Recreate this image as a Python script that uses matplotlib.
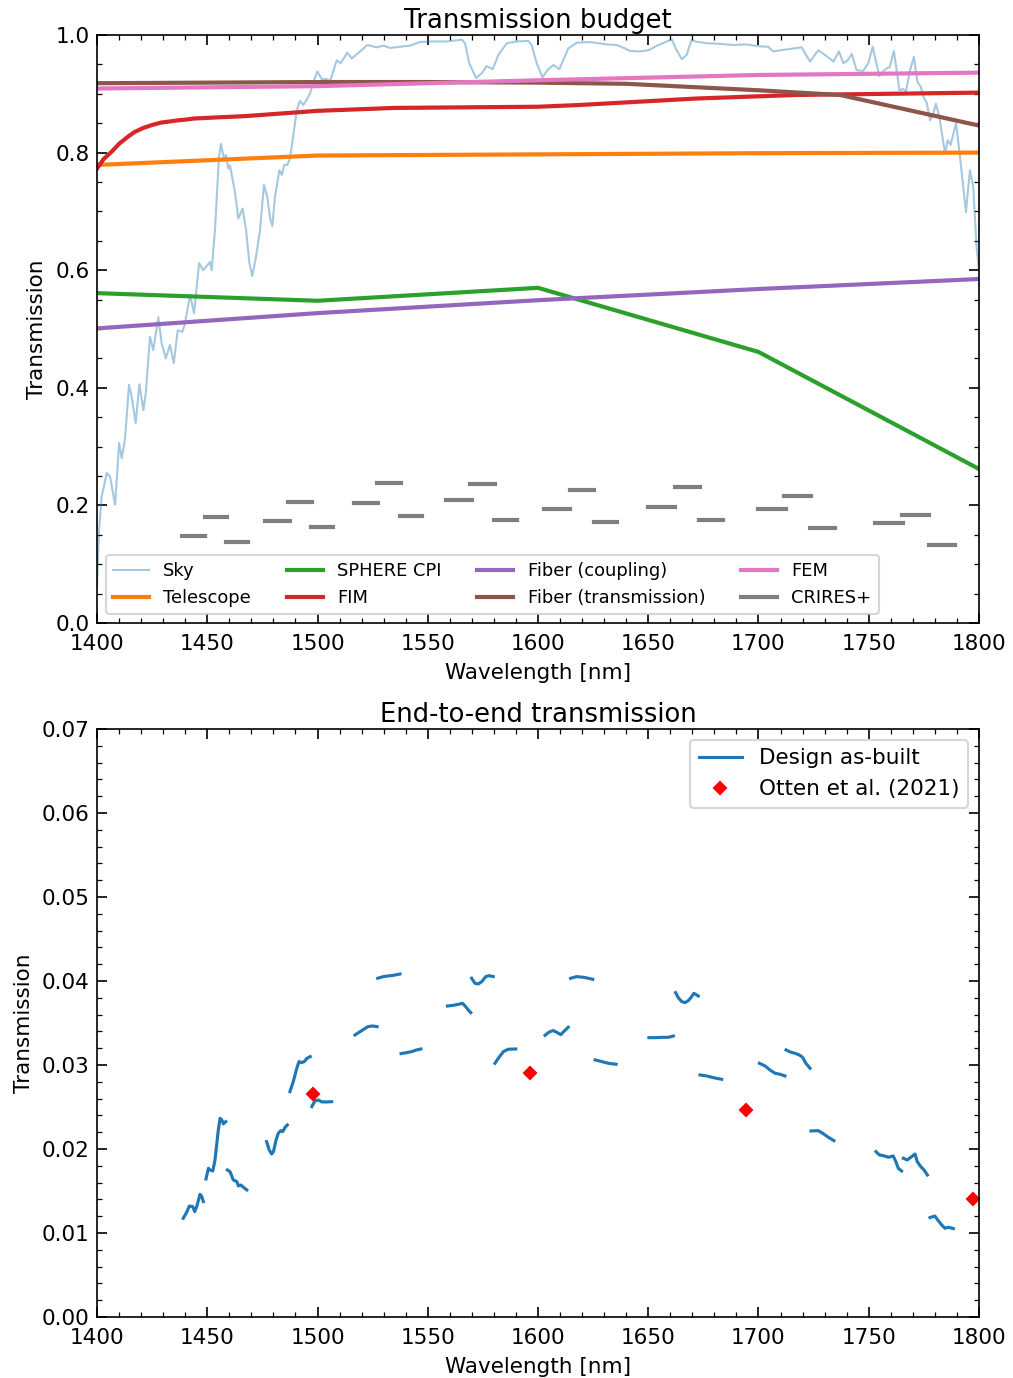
import numpy as np
import matplotlib
matplotlib.use("Agg")
import matplotlib.pyplot as plt
from matplotlib.ticker import MultipleLocator

plt.rcParams["font.size"] = 10.35

# ---------------- DATA ----------------
# sky transmission
sky_wl = [1400.0, 1400.9, 1402.1, 1404.4, 1405.9, 1408.2, 1410.0, 1411.2, 1412.7, 1414.5,
          1415.7, 1417.5, 1419.2, 1421.0, 1422.1, 1424.0, 1425.5, 1427.8, 1429.3, 1431.2,
          1433.1, 1434.8, 1436.6, 1438.7, 1439.9, 1442.2, 1444.0, 1446.3, 1448.2, 1451.2,
          1452.0, 1453.5, 1455.3, 1456.2, 1457.7, 1458.5, 1459.5, 1460.3, 1462.5, 1464.1,
          1466.0, 1467.6, 1469.1, 1470.4, 1472.1, 1473.9, 1475.7, 1477.2, 1478.5, 1479.5,
          1480.7, 1482.7, 1483.8, 1484.9, 1486.3, 1487.5, 1488.7, 1490.6, 1492.0, 1493.6,
          1495.4, 1496.6, 1498.4, 1499.9, 1501.9, 1504.2, 1505.7, 1508.7, 1510.5, 1513.5,
          1515.5, 1519.3, 1522.6, 1526.9, 1529.8, 1532.9, 1542.0, 1546.5, 1551.0, 1558.6,
          1565.4, 1566.9, 1568.8, 1571.9, 1574.5, 1576.7, 1579.5, 1582.0, 1585.8, 1590.3,
          1595.6, 1597.1, 1599.4, 1602.0, 1604.7, 1607.0, 1609.7, 1613.7, 1617.6, 1623.6,
          1631.2, 1635.7, 1639.5, 1641.7, 1646.0, 1650.0, 1654.6, 1658.4, 1660.6, 1662.9,
          1665.2, 1667.4, 1669.7, 1671.2, 1676.5, 1682.5, 1688.6, 1694.6, 1699.9, 1704.4,
          1706.7, 1709.8, 1715.8, 1719.6, 1721.1, 1723.4, 1727.1, 1730.2, 1734.0, 1736.5,
          1738.5, 1740.3, 1742.3, 1744.5, 1747.5, 1749.8, 1751.8, 1752.8, 1754.8, 1756.9,
          1759.6, 1761.4, 1762.7, 1763.9, 1765.7, 1766.9, 1768.7, 1770.5, 1772.0, 1773.6,
          1774.8, 1776.3, 1777.8, 1779.3, 1780.5, 1782.0, 1784.6, 1785.8, 1787.1, 1789.6,
          1791.4, 1794.1, 1795.9, 1797.4, 1798.9, 1800.0]
sky_tr = [0.060, 0.158, 0.215, 0.255, 0.249, 0.201, 0.306, 0.280, 0.314, 0.405,
          0.385, 0.340, 0.406, 0.362, 0.391, 0.487, 0.464, 0.520, 0.476, 0.450,
          0.473, 0.442, 0.498, 0.495, 0.510, 0.558, 0.527, 0.612, 0.600, 0.614,
          0.600, 0.669, 0.793, 0.815, 0.787, 0.796, 0.773, 0.778, 0.734, 0.688,
          0.705, 0.668, 0.612, 0.590, 0.623, 0.668, 0.745, 0.725, 0.688, 0.675,
          0.725, 0.770, 0.762, 0.779, 0.779, 0.790, 0.821, 0.872, 0.888, 0.881,
          0.892, 0.901, 0.923, 0.938, 0.925, 0.925, 0.921, 0.957, 0.952, 0.970,
          0.960, 0.972, 0.983, 0.979, 0.982, 0.978, 0.982, 0.988, 0.989, 0.989,
          0.992, 0.986, 0.952, 0.927, 0.935, 0.947, 0.942, 0.966, 0.986, 0.989,
          0.990, 0.983, 0.952, 0.928, 0.942, 0.949, 0.942, 0.977, 0.987, 0.988,
          0.984, 0.983, 0.977, 0.973, 0.972, 0.974, 0.983, 0.989, 0.993, 0.974,
          0.959, 0.966, 0.992, 0.989, 0.986, 0.985, 0.983, 0.984, 0.981, 0.980,
          0.972, 0.974, 0.977, 0.979, 0.969, 0.955, 0.974, 0.966, 0.955, 0.972,
          0.952, 0.956, 0.968, 0.940, 0.939, 0.952, 0.980, 0.963, 0.930, 0.940,
          0.946, 0.973, 0.940, 0.906, 0.908, 0.904, 0.940, 0.963, 0.921, 0.912,
          0.895, 0.885, 0.855, 0.867, 0.883, 0.861, 0.799, 0.821, 0.813, 0.850,
          0.793, 0.699, 0.770, 0.742, 0.640, 0.600]

# piecewise components
knot_wl = [1400, 1500, 1600, 1700, 1800]
telescope_tr = [0.779, 0.795, 0.797, 0.799, 0.800]
sphere_tr = [0.561, 0.548, 0.570, 0.461, 0.262]
coupling_tr = [0.501, 0.527, 0.549, 0.568, 0.585]
fem_tr = [0.909, 0.913, 0.923, 0.932, 0.936]

fim_wl = [1400, 1403, 1407, 1410, 1414, 1417, 1421, 1425, 1429, 1433, 1437, 1440, 1444,
          1450, 1455, 1467, 1500, 1535, 1600, 1619, 1672, 1717, 1800]
fim_tr = [0.773, 0.789, 0.803, 0.815, 0.827, 0.835, 0.842, 0.847, 0.851, 0.853, 0.855,
          0.856, 0.858, 0.859, 0.860, 0.862, 0.871, 0.876, 0.878, 0.881, 0.892, 0.898,
          0.902]

fibtr_wl = [1400, 1500, 1550, 1600, 1640, 1700, 1737, 1800]
fibtr_tr = [0.918, 0.920, 0.920, 0.919, 0.917, 0.906, 0.898, 0.846]

# CRIRES+ per order/detector
crires_start = [1438.4, 1449.0, 1458.4, 1476.3, 1486.8, 1496.9, 1516.4, 1527.0, 1537.3,
                1558.4, 1569.3, 1580.0, 1602.7, 1614.4, 1625.4, 1649.7, 1662.0, 1672.9,
                1699.8, 1711.7, 1723.4, 1752.7, 1765.1, 1777.2]
crires_end = [1449.0, 1459.0, 1468.5, 1487.5, 1497.5, 1507.0, 1527.4, 1538.0, 1547.4,
              1569.9, 1580.4, 1590.3, 1614.4, 1625.4, 1636.0, 1662.0, 1673.3, 1683.9,
              1712.5, 1723.8, 1734.8, 1765.4, 1777.3, 1789.0]
crires_tr = [0.148, 0.180, 0.138, 0.174, 0.205, 0.164, 0.2035, 0.2375, 0.1825,
             0.2086, 0.236, 0.175, 0.1944, 0.2256, 0.1723, 0.197, 0.232, 0.175,
             0.1944, 0.2154, 0.161, 0.170, 0.184, 0.133]

# end-to-end transmission, segments separated by nan
nan = np.nan
e2e_wl = [1439.1, 1440.4, 1441.9, 1443.4, 1444.3, 1445.2, 1446.7, 1447.5, 1448.2, nan,
          1449.4, 1450.5, 1451.2, 1452.5, 1453.5, 1455.0, 1455.8, 1456.6, 1457.3, 1458.4, nan,
          1459.1, 1460.3, 1461.8, 1463.4, 1464.1, 1465.2, 1466.4, 1467.9, nan,
          1476.9, 1478.1, 1479.2, 1480.0, 1481.2, 1482.2, 1483.3, 1484.2, 1485.3, 1486.3, nan,
          1487.5, 1489.0, 1490.6, 1491.6, 1492.8, 1494.0, 1495.2, 1496.7, nan,
          1497.4, 1498.9, 1500.4, 1501.9, 1504.2, 1506.4, nan,
          1517.0, 1520.0, 1522.8, 1524.9, 1527.0, nan,
          1527.3, 1529.9, 1532.1, 1534.4, 1537.4, nan,
          1537.9, 1540.5, 1542.7, 1545.0, 1546.9, nan,
          1558.9, 1561.6, 1563.9, 1565.8, 1567.2, 1568.4, 1569.5, nan,
          1569.9, 1571.4, 1572.9, 1574.5, 1576.3, 1577.8, 1579.7, nan,
          1580.5, 1582.3, 1584.3, 1586.5, 1589.9, nan,
          1603.2, 1605.1, 1606.9, 1608.8, 1610.3, 1611.8, 1613.7, nan,
          1614.8, 1617.5, 1620.5, 1622.8, 1624.8, nan,
          1625.9, 1628.9, 1631.9, 1635.4, nan,
          1650.3, 1653.1, 1656.1, 1659.1, 1661.4, nan,
          1662.4, 1663.6, 1665.2, 1666.7, 1668.2, 1669.7, 1670.7, 1672.7, nan,
          1673.5, 1676.5, 1679.5, 1683.3, nan,
          1700.4, 1703.0, 1705.2, 1707.5, 1709.8, 1712.0, nan,
          1712.5, 1714.3, 1716.6, 1718.5, 1720.0, 1721.5, 1723.4, nan,
          1723.8, 1727.1, 1729.1, 1731.7, 1734.2, nan,
          1753.3, 1754.8, 1756.6, 1758.9, 1761.1, 1762.3, 1763.4, 1764.9, nan,
          1765.7, 1767.5, 1769.5, 1771.0, 1772.0, 1773.6, 1775.1, 1776.6, nan,
          1777.8, 1780.0, 1781.5, 1783.1, 1784.6, 1786.1, 1788.4]
e2e_tr = [0.01175, 0.01234, 0.01321, 0.01313, 0.01254, 0.01313, 0.01460, 0.01433, 0.01373, nan,
          0.01643, 0.01770, 0.01750, 0.01738, 0.01869, 0.02226, 0.02365, 0.02345, 0.02298, 0.02325, nan,
          0.01750, 0.01730, 0.01631, 0.01611, 0.01560, 0.01571, 0.01544, 0.01512, nan,
          0.02087, 0.01988, 0.01940, 0.01968, 0.02107, 0.02187, 0.02218, 0.02206, 0.02258, 0.02286, nan,
          0.02683, 0.02802, 0.02960, 0.03040, 0.03028, 0.03040, 0.03079, 0.03099, nan,
          0.02504, 0.02575, 0.02583, 0.02560, 0.02560, 0.02563, nan,
          0.03357, 0.03409, 0.03456, 0.03464, 0.03456, nan,
          0.04032, 0.04052, 0.04060, 0.04067, 0.04083, nan,
          0.03135, 0.03147, 0.03159, 0.03179, 0.03190, nan,
          0.03702, 0.03710, 0.03722, 0.03734, 0.03694, 0.03655, 0.03623, nan,
          0.04032, 0.03972, 0.03964, 0.03992, 0.04052, 0.04063, 0.04052, nan,
          0.03020, 0.03091, 0.03159, 0.03187, 0.03190, nan,
          0.03353, 0.03393, 0.03409, 0.03385, 0.03361, 0.03401, 0.03449, nan,
          0.04032, 0.04052, 0.04044, 0.04032, 0.04020, nan,
          0.03060, 0.03040, 0.03020, 0.03008, nan,
          0.03325, 0.03325, 0.03329, 0.03329, 0.03345, nan,
          0.03861, 0.03802, 0.03754, 0.03742, 0.03766, 0.03813, 0.03853, 0.03821, nan,
          0.02881, 0.02869, 0.02849, 0.02829, nan,
          0.03020, 0.02988, 0.02940, 0.02901, 0.02889, 0.02869, nan,
          0.03179, 0.03155, 0.03139, 0.03119, 0.03091, 0.03020, 0.02960, nan,
          0.02214, 0.02218, 0.02187, 0.02139, 0.02099, nan,
          0.01968, 0.01929, 0.01921, 0.01901, 0.01917, 0.01849, 0.01770, 0.01738, nan,
          0.01889, 0.01869, 0.01909, 0.01940, 0.01849, 0.01790, 0.01750, 0.01690, nan,
          0.01183, 0.01202, 0.01147, 0.01095, 0.01056, 0.01068, 0.01052]

# measured points
otten_wl = [1497.8, 1596.4, 1694.2, 1797.1]
otten_tr = [0.0265, 0.0291, 0.0246, 0.0140]

# ---------------- PLOT ----------------
fig = plt.figure(figsize=(1013 / 150, 1378 / 150), dpi=150)
ax1 = fig.add_axes([0.0958, 0.5479, 0.8706, 0.4267])
ax2 = fig.add_axes([0.0958, 0.0443, 0.8706, 0.4267])

ax1.plot(sky_wl, sky_tr, color="C0", lw=1, alpha=0.4, label="Sky")
ax1.plot(knot_wl, telescope_tr, color="C1", lw=2, label="Telescope")
ax1.plot(knot_wl, sphere_tr, color="C2", lw=2, label="SPHERE CPI")
ax1.plot(fim_wl, fim_tr, color="C3", lw=2, label="FIM")
ax1.plot(knot_wl, coupling_tr, color="C4", lw=2, label="Fiber (coupling)")
ax1.plot(fibtr_wl, fibtr_tr, color="C5", lw=2, label="Fiber (transmission)")
ax1.plot(knot_wl, fem_tr, color="C6", lw=2, label="FEM")
for i in range(len(crires_tr)):
    ax1.plot([crires_start[i], crires_end[i]], [crires_tr[i], crires_tr[i]],
             color="C7", lw=2, label="CRIRES+" if i == 0 else None)

ax1.set_xlim(1400, 1800)
ax1.set_ylim(0, 1)
ax1.set_title("Transmission budget", pad=3.5)
ax1.set_xlabel("Wavelength [nm]")
ax1.set_ylabel("Transmission")
ax1.yaxis.set_major_locator(MultipleLocator(0.2))
ax1.yaxis.set_minor_locator(MultipleLocator(0.05))
ax1.legend(loc="lower left", ncol=4, fontsize=8.6)

ax2.plot(e2e_wl, e2e_tr, color="C0", lw=1.5, label="Design as-built")
ax2.plot(otten_wl, otten_tr, ls="none", marker="D", ms=4.2, color="red",
         label="Otten et al. (2021)")
ax2.set_xlim(1400, 1800)
ax2.set_ylim(0, 0.07)
ax2.set_title("End-to-end transmission", pad=3.5)
ax2.set_xlabel("Wavelength [nm]")
ax2.set_ylabel("Transmission")
ax2.yaxis.set_major_locator(MultipleLocator(0.01))
ax2.yaxis.set_minor_locator(MultipleLocator(0.002))
ax2.legend(loc="upper right")

for ax in (ax1, ax2):
    ax.xaxis.set_major_locator(MultipleLocator(50))
    ax.xaxis.set_minor_locator(MultipleLocator(10))
    ax.tick_params(which="both", direction="in", top=True, right=True)
    ax.tick_params(which="major", length=5)
    ax.tick_params(which="minor", length=2.5)
    ax.tick_params(axis="x", which="major", pad=5.5)

fig.savefig("out.png", dpi=150)
